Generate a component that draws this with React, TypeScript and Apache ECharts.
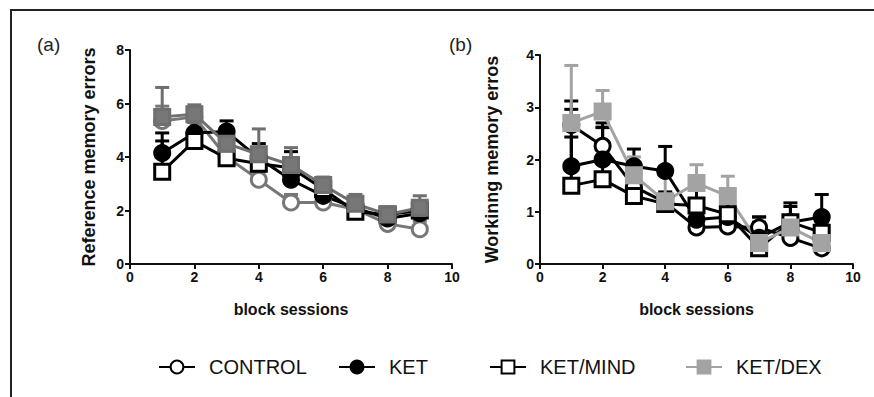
import React, { useEffect, useRef } from "react";
import * as echarts from "echarts";

const sessions = [1, 2, 3, 4, 5, 6, 7, 8, 9];
const seriesNames = ["CONTROL", "KET", "KET/MIND", "KET/DEX"];

// Panel (a): Reference memory errors
const refControl = [5.35, 5.5, 4.0, 3.15, 2.3, 2.3, 2.05, 1.5, 1.3];
const refControlErr = [0.55, 0.3, 0.3, 0.3, 0.3, 0.3, 0.3, 0.3, 0.3];
const refKet = [4.15, 4.9, 4.95, 3.95, 3.15, 2.55, 2.1, 1.7, 1.9];
const refKetErr = [0.75, 0.4, 0.4, 0.3, 0.3, 0.3, 0.3, 0.3, 0.3];
const refKetMind = [3.45, 4.6, 3.95, 3.75, 3.6, 2.8, 1.95, 1.85, 2.0];
const refKetMindErr = [1.15, 0.3, 0.3, 0.75, 0.6, 0.3, 0.3, 0.25, 0.3];
const refKetDex = [5.5, 5.6, 4.5, 4.1, 3.7, 2.95, 2.25, 1.85, 2.1];
const refKetDexErr = [1.1, 0.35, 0.3, 0.95, 0.65, 0.3, 0.35, 0.25, 0.45];

// Panel (b): Working memory errors
const wrkControl = [2.66, 2.26, 1.48, 1.18, 0.7, 0.72, 0.7, 0.5, 0.3];
const wrkControlErr = [0.3, 0.35, 0.3, 0.2, 0.2, 0.2, 0.2, 0.2, 0.15];
const wrkKet = [1.87, 2.0, 1.87, 1.78, 0.85, 0.9, 0.5, 0.8, 0.9];
const wrkKetErr = [1.25, 0.7, 0.33, 0.47, 0.3, 0.3, 0.3, 0.3, 0.43];
const wrkKetMind = [1.5, 1.62, 1.3, 1.15, 1.12, 0.95, 0.3, 0.8, 0.6];
const wrkKetMindErr = [0.93, 1.0, 0.3, 0.2, 0.35, 0.25, 0.6, 0.37, 0.2];
const wrkKetDex = [2.7, 2.92, 1.7, 1.2, 1.55, 1.3, 0.4, 0.7, 0.4];
const wrkKetDexErr = [1.1, 0.4, 0.35, 0.67, 0.35, 0.38, 0.2, 0.2, 0.2];

const xTicks = [0, 10, 2];
const refYTicks = [0, 8, 2];
const wrkYTicks = [0, 4, 1];

const FONT = "'Liberation Sans', Arial, sans-serif";

type Style = { color: string; symbol: string; fill: string };

function makeSeries(
  name: string,
  vals: number[],
  errs: number[],
  idx: number,
  st: Style
) {
  const line = {
    type: "line",
    name,
    xAxisIndex: idx,
    yAxisIndex: idx,
    data: sessions.map((s, i) => [s, vals[i]]),
    symbol: st.symbol,
    symbolSize: 15,
    lineStyle: { color: st.color, width: 3 },
    itemStyle: { color: st.fill, borderColor: st.color, borderWidth: 3 },
    z: 3,
  };
  const err = {
    type: "custom",
    name: name + "-err" + idx,
    xAxisIndex: idx,
    yAxisIndex: idx,
    data: sessions.map((s, i) => [s, vals[i], vals[i] + errs[i]]),
    z: 2,
    renderItem: (params: any, api: any) => {
      const x = api.value(0);
      const p0 = api.coord([x, api.value(1)]);
      const p1 = api.coord([x, api.value(2)]);
      const style = { stroke: st.color, lineWidth: 3 };
      return {
        type: "group",
        children: [
          { type: "line", shape: { x1: p0[0], y1: p0[1], x2: p1[0], y2: p1[1] }, style },
          { type: "line", shape: { x1: p1[0] - 7, y1: p1[1], x2: p1[0] + 7, y2: p1[1] }, style },
        ],
      };
    },
  };
  return [line, err];
}

function axisCommon() {
  return {
    axisLine: { show: true, lineStyle: { color: "#111", width: 2 } },
    axisTick: { show: true, length: 5, lineStyle: { color: "#111", width: 2 } },
    axisLabel: { color: "#111", fontWeight: "bold", fontSize: 14, fontFamily: FONT, margin: 6 },
    splitLine: { show: false },
  };
}

export default function App() {
  const ref = useRef<HTMLDivElement>(null);
  useEffect(() => {
    if (!ref.current) return;
    const chart = echarts.init(ref.current, null, { renderer: "svg" });

    const stA: Style[] = [
      { color: "#777", symbol: "circle", fill: "#fff" },
      { color: "#000", symbol: "circle", fill: "#000" },
      { color: "#000", symbol: "rect", fill: "#fff" },
      { color: "#6f6f6f", symbol: "rect", fill: "#777" },
    ];
    const stB: Style[] = [
      { color: "#000", symbol: "circle", fill: "#fff" },
      { color: "#000", symbol: "circle", fill: "#000" },
      { color: "#000", symbol: "rect", fill: "#fff" },
      { color: "#a3a3a3", symbol: "rect", fill: "#a3a3a3" },
    ];
    const valsB = [wrkControl, wrkKet, wrkKetMind, wrkKetDex];
    const errsB = [wrkControlErr, wrkKetErr, wrkKetMindErr, wrkKetDexErr];
    const valsA = [refControl, refKet, refKetMind, refKetDex];
    const errsA = [refControlErr, refKetErr, refKetMindErr, refKetDexErr];

    const series: any[] = [];
    const bLines: any[] = [];
    const bErr: any[] = [];
    seriesNames.forEach((n, i) => {
      const [l, e] = makeSeries(n, valsB[i], errsB[i], 1, stB[i]);
      bLines.push(l);
      bErr.push(e);
    });
    const aLines: any[] = [];
    const aErr: any[] = [];
    seriesNames.forEach((n, i) => {
      const [l, e] = makeSeries(n, valsA[i], errsA[i], 0, stA[i]);
      aLines.push(l);
      aErr.push(e);
    });
    series.push(...bLines, ...bErr, ...aLines, ...aErr);

    const legendLefts = [153, 333, 484, 680];
    const legends = seriesNames.map((n, i) => ({
      data: [n],
      left: legendLefts[i],
      top: 352,
      itemWidth: 36,
      itemHeight: 16,
      selectedMode: false,
      textStyle: { fontSize: 20, fontFamily: FONT, color: "#111", padding: [0, 0, 0, 9] },
    }));

    chart.setOption({
      animation: false,
      backgroundColor: "#fff",
      grid: [
        { left: 130, width: 322, top: 50, height: 214 },
        { left: 540, width: 313, top: 55, height: 209 },
      ],
      xAxis: [0, 1].map((g) => ({
        type: "value",
        gridIndex: g,
        min: xTicks[0],
        max: xTicks[1],
        interval: xTicks[2],
        name: "block sessions",
        nameLocation: "middle",
        nameGap: 37,
        nameTextStyle: { fontWeight: "bold", fontSize: 16, fontFamily: FONT, color: "#111" },
        ...axisCommon(),
      })),
      yAxis: [
        {
          type: "value",
          gridIndex: 0,
          min: refYTicks[0],
          max: refYTicks[1],
          interval: refYTicks[2],
          name: "Reference memory errors",
          nameLocation: "middle",
          nameGap: 32,
          nameTextStyle: { fontWeight: "bold", fontSize: 18, fontFamily: FONT, color: "#111" },
          ...axisCommon(),
        },
        {
          type: "value",
          gridIndex: 1,
          min: wrkYTicks[0],
          max: wrkYTicks[1],
          interval: wrkYTicks[2],
          name: "Workinng memory erros",
          nameLocation: "middle",
          nameGap: 39,
          nameTextStyle: { fontWeight: "bold", fontSize: 18, fontFamily: FONT, color: "#111" },
          ...axisCommon(),
        },
      ],
      legend: legends,
      graphic: [
        { type: "line", shape: { x1: 10, y1: 10, x2: 874, y2: 10 }, style: { stroke: "#222", lineWidth: 2 } },
        { type: "line", shape: { x1: 11, y1: 10, x2: 11, y2: 397 }, style: { stroke: "#222", lineWidth: 2 } },
        { type: "text", left: 37, top: 35, style: { text: "(a)", fontSize: 19, fontFamily: FONT, fill: "#222" } },
        { type: "text", left: 449, top: 35, style: { text: "(b)", fontSize: 19, fontFamily: FONT, fill: "#222" } },
      ],
      series,
    });
    return () => chart.dispose();
  }, []);
  return (
    <div
      ref={ref}
      style={{ width: 874, height: 397, position: "absolute", left: 0, top: 0 }}
    />
  );
}
